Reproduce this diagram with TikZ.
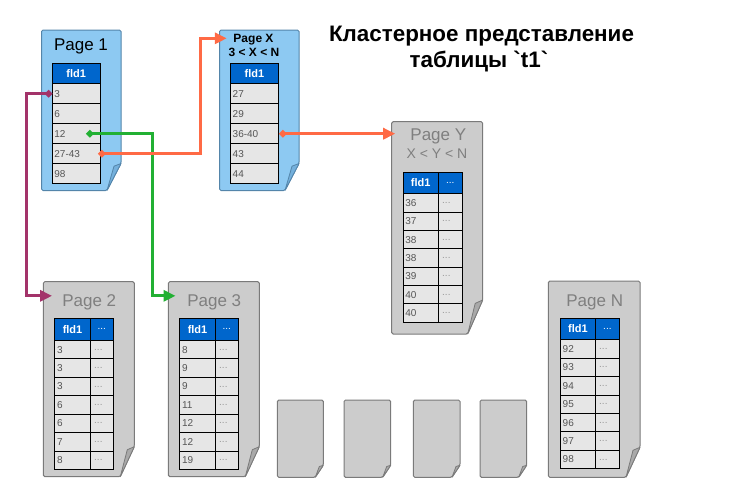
\documentclass[tikz,border=0pt]{standalone}
\usepackage{fontspec}
\setmainfont{Liberation Sans}
\newfontfamily\plainfont{Liberation Sans}
\usetikzlibrary{arrows.meta}
\definecolor{pblue}{HTML}{8DC9F2}
\definecolor{pblueb}{HTML}{5485AA}
\definecolor{pbluefold}{HTML}{74B0DC}
\definecolor{pgray}{HTML}{CCCCCC}
\definecolor{pgrayb}{HTML}{7A7A7A}
\definecolor{pgrayfold}{HTML}{A9A9A9}
\definecolor{hdr}{HTML}{0066CC}
\definecolor{rowf}{HTML}{E6E6E6}
\definecolor{rowt}{HTML}{555555}
\definecolor{ttlgray}{HTML}{7F7F7F}
\definecolor{cpurple}{HTML}{A3336A}
\definecolor{cgreen}{HTML}{22B033}
\definecolor{corange}{HTML}{FF6A45}
\tikzset{
  hdrcell/.style={draw=black, fill=hdr, text=white, font=\bfseries\fontsize{11}{11}\selectfont, anchor=north west, inner sep=0pt, line width=0.8pt},
  hdrdots/.style={hdrcell, font=\plainfont\fontsize{10}{10}\selectfont},
  rowcell/.style={draw=black, fill=rowf, anchor=north west, inner sep=0pt, line width=0.8pt},
  rowtext/.style={anchor=west, inner xsep=2.5pt, inner ysep=0pt, text=rowt, font=\fontsize{10}{10}\selectfont},
  dottext/.style={anchor=west, inner xsep=4pt, inner ysep=0pt, text=rowt!60, font=\plainfont\fontsize{10}{10}\selectfont},
  pagettl/.style={anchor=base, inner sep=0pt, text=ttlgray, font=\fontsize{17}{17}\selectfont},
  pagesub/.style={anchor=base, inner sep=0pt, text=ttlgray, font=\fontsize{14}{14}\selectfont},
  pxttl/.style={anchor=base, inner sep=0pt, text=black, font=\bfseries\fontsize{12}{12}\selectfont},
  conn/.style={line width=3pt, {Diamond[length=8pt,width=8pt]}-{Triangle[length=12pt,width=11pt]}},
}
\newcommand\paperpage[9]{%
  \draw[fill=#7, draw=#8, line width=1pt, rounded corners=1.5pt] (#1,#4) -- (#1,#2) -- (#3,#2) -- (#3,#4-#6) -- (#3-#5,#4) -- cycle;
  \draw[fill=#9, draw=#8, line width=0.8pt, line join=round] (#3,#4-#6) -- (#3-#5,#4) -- (#3-0.5*#5,#4-0.9*#6) -- cycle;
}
% name x w ytop hh rh list
\newcommand\onecol[7]{%
  \node[hdrcell, minimum width=#3, minimum height=#5] (#1h) at (#2,#4) {fld1};
  \foreach \v [count=\i] in {#7} {
    \node[rowcell, minimum width=#3, minimum height=#6] (#1r\i) at (#2,#4+#5+\i*#6-#6) {};
    \node[rowtext] (#1t\i) at (#1r\i.west) {\v};
  }
}
% name x w1 w2 ytop hh rh list
\newcommand\twocol[8]{%
  \node[hdrcell, minimum width=#3, minimum height=#6] (#1h) at (#2,#5) {fld1};
  \node[hdrdots, minimum width=#4, minimum height=#6] (#1hd) at (#2+#3,#5) {...};
  \foreach \v [count=\i] in {#8} {
    \node[rowcell, minimum width=#3, minimum height=#7] (#1r\i) at (#2,#5+#6+\i*#7-#7) {};
    \node[rowtext] (#1t\i) at (#1r\i.west) {\v};
    \node[rowcell, minimum width=#4, minimum height=#7] (#1d\i) at (#2+#3,#5+#6+\i*#7-#7) {};
    \node[dottext] (#1e\i) at (#1d\i.west) {...};
  }
}
\begin{document}
\begin{tikzpicture}[x=1pt,y=-1pt]
\useasboundingbox (0,0) rectangle (749,501);
% title
\node[anchor=base, inner sep=0pt, font=\bfseries\fontsize{22.4}{22.4}\selectfont] (ttl1) at (481.5,41.5) {Кластерное представление};
\node[anchor=base, inner sep=0pt, font=\plainfont\bfseries\fontsize{22.4}{22.4}\selectfont] (ttl2) at (479,67.5) {таблицы `t1`};
% Page 1
\paperpage{41.5}{30}{121}{190.5}{14}{27}{pblue}{pblueb}{pbluefold}
\node[pagettl, text=black] (p1title) at (81,50) {Page 1};
\onecol{p1}{51.7}{48.3}{63}{20.3}{20}{3,6,12,27-43,98}
% Page X
\paperpage{219.5}{30}{299}{190.5}{14}{27}{pblue}{pblueb}{pbluefold}
\node[pxttl] (pxtitle) at (253.5,42.7) {Page X};
\node[pxttl] (pxsub) at (254,56) {3 < X < N};
\onecol{px}{230}{48}{63}{20.3}{20}{27,29,36-40,43,44}
% Page Y
\paperpage{391.7}{121.7}{482.7}{334}{15}{34}{pgray}{pgrayb}{pgrayfold}
\node[pagettl] (pytitle) at (438.3,140.7) {Page Y};
\node[pagesub] (pysub) at (437,158.7) {X < Y < N};
\twocol{py}{402.7}{35.3}{23.7}{171.7}{21.6}{18.35}{36,37,38,38,39,40,40}
% Page 2
\paperpage{43.3}{281.7}{134.3}{476.7}{14}{30}{pgray}{pgrayb}{pgrayfold}
\node[pagettl] (p2title) at (89.2,306) {Page 2};
\twocol{p2}{54.3}{35.7}{22.7}{317.7}{22.3}{18.43}{3,3,3,6,6,7,8}
% Page 3
\paperpage{168.3}{281.7}{259.3}{476.7}{14}{30}{pgray}{pgrayb}{pgrayfold}
\node[pagettl] (p3title) at (214.2,306) {Page 3};
\twocol{p3}{179.3}{35.7}{22.7}{317.7}{22.3}{18.43}{8,9,9,11,12,12,19}
% Page N
\paperpage{548.3}{281}{640}{477.3}{14}{30}{pgray}{pgrayb}{pgrayfold}
\node[pagettl] (pntitle) at (594.7,306) {Page N};
\twocol{pn}{560}{35}{24}{317.7}{21.6}{18.43}{92,93,94,95,96,97,98}
% blank pages
\paperpage{277.3}{400}{323.3}{477.3}{8}{12}{pgray}{pgrayb}{pgrayfold}
\paperpage{344}{400}{390.7}{477.3}{8}{12}{pgray}{pgrayb}{pgrayfold}
\paperpage{413.3}{400}{460}{477.3}{8}{12}{pgray}{pgrayb}{pgrayfold}
\paperpage{480}{400}{526.7}{477.3}{8}{12}{pgray}{pgrayb}{pgrayfold}
% connectors
\coordinate (pyin) at ([xshift=-15pt]pytitle.west);
\draw[conn, cpurple] ([xshift=1pt]p1r1.west) -| ([xshift=-36pt,yshift=6pt]p2title.west) -- ([xshift=-10pt,yshift=6pt]p2title.west);
\draw[conn, cgreen] ([xshift=-15pt]p1r3.east) -| ([xshift=-35pt,yshift=6pt]p3title.west) -- ([xshift=-11.5pt,yshift=6pt]p3title.west);
\draw[conn, corange] ([xshift=-3pt]p1r4.east) -| ([xshift=-33pt,yshift=1.5pt]pxtitle.west) -- ([xshift=-6.5pt,yshift=1.5pt]pxtitle.west);
\draw[conn, corange] (pxr3.east) -- (pyin |- pxr3.east);
\end{tikzpicture}
\end{document}
